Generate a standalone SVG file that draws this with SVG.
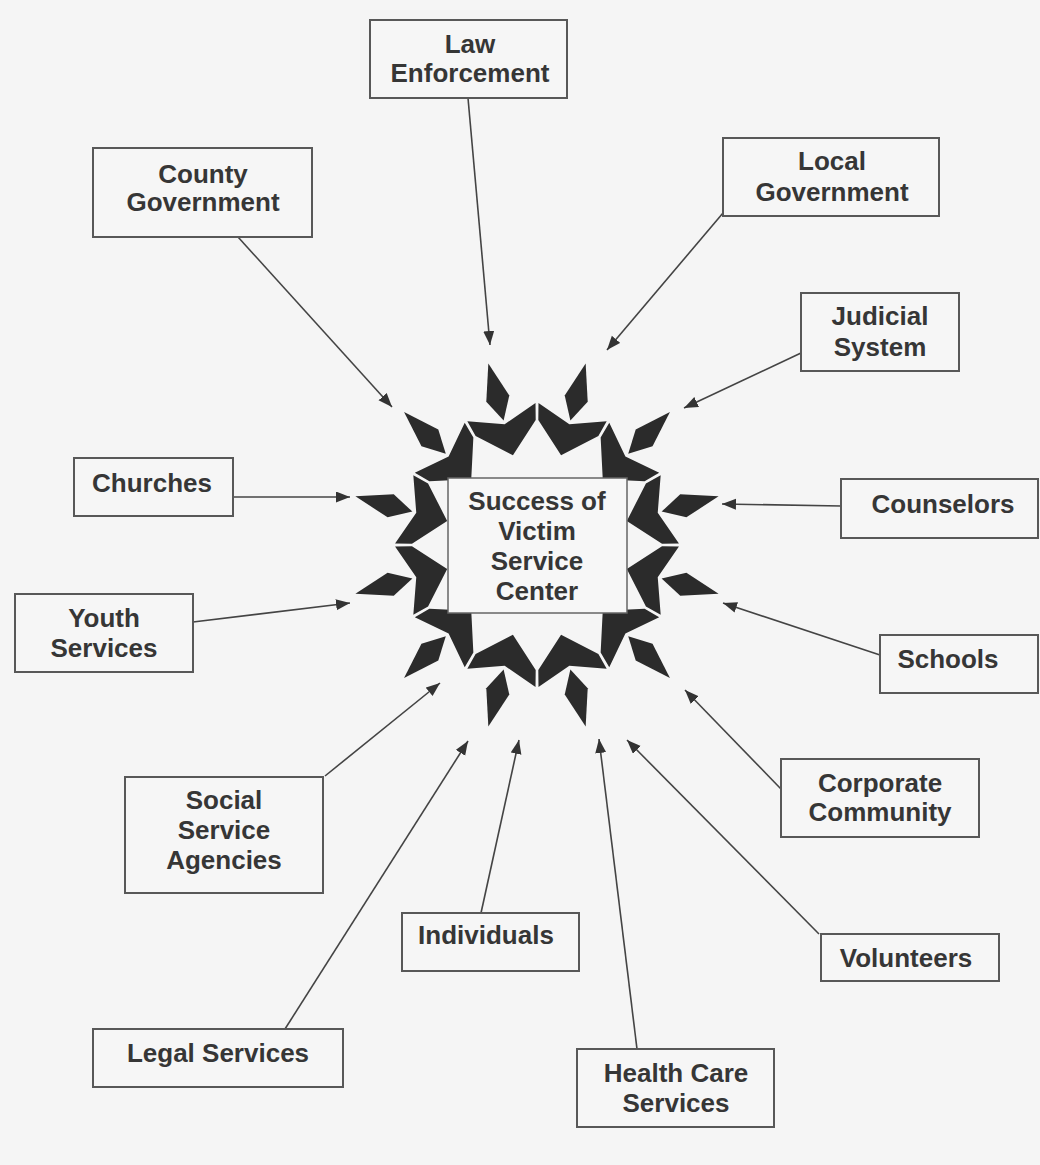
<svg xmlns="http://www.w3.org/2000/svg" xmlns:xlink="http://www.w3.org/1999/xlink" width="1040" height="1165" viewBox="0 0 1040 1165">
<style>
  .box { fill: #f6f6f6; stroke: #585858; stroke-width: 2; }
  .lbl { font-family: "Liberation Sans", Arial, sans-serif; font-weight: bold; font-size: 26px; fill: #363636; text-anchor: middle; }
  .edge { stroke: #444; stroke-width: 1.6; fill: none; marker-end: url(#arr); }
  .star { fill: #2b2b2b; }
</style>
<defs>
  <marker id="arr" markerUnits="userSpaceOnUse" markerWidth="15" markerHeight="12" refX="14" refY="5.5" orient="auto">
    <path d="M0,0 L14,5.5 L0,11 z" fill="#333"/>
  </marker>
  <g id="unit" class="star">
    <polygon points="-35.3,-137.5 0,-125 35.3,-137.5 31.1,-121.1 0,-93 -31.1,-121.1"/>
    <polygon points="0,-129 11.9,-151.5 0,-188 -11.9,-151.5"/>
  </g>
</defs>
<rect x="0" y="0" width="1040" height="1165" fill="#f5f5f5"/>

<g id="center">
  <use xlink:href="#unit" href="#unit" transform="translate(537,545) rotate(15)"/>
  <use xlink:href="#unit" href="#unit" transform="translate(537,545) rotate(45)"/>
  <use xlink:href="#unit" href="#unit" transform="translate(537,545) rotate(75)"/>
  <use xlink:href="#unit" href="#unit" transform="translate(537,545) rotate(105)"/>
  <use xlink:href="#unit" href="#unit" transform="translate(537,545) rotate(135)"/>
  <use xlink:href="#unit" href="#unit" transform="translate(537,545) rotate(165)"/>
  <use xlink:href="#unit" href="#unit" transform="translate(537,545) rotate(195)"/>
  <use xlink:href="#unit" href="#unit" transform="translate(537,545) rotate(225)"/>
  <use xlink:href="#unit" href="#unit" transform="translate(537,545) rotate(255)"/>
  <use xlink:href="#unit" href="#unit" transform="translate(537,545) rotate(285)"/>
  <use xlink:href="#unit" href="#unit" transform="translate(537,545) rotate(315)"/>
  <use xlink:href="#unit" href="#unit" transform="translate(537,545) rotate(345)"/>
  <rect x="448" y="478" width="179" height="135" fill="#f7f7f7" stroke="#666" stroke-width="1.5"/>
  <text class="lbl" x="537" y="510">Success of</text>
  <text class="lbl" x="537" y="540">Victim</text>
  <text class="lbl" x="537" y="570">Service</text>
  <text class="lbl" x="537" y="600">Center</text>
</g>

<g id="connectors">
  <line class="edge" x1="468" y1="98" x2="490" y2="345"/>
  <line class="edge" x1="238" y1="237" x2="392" y2="407"/>
  <line class="edge" x1="723" y1="213" x2="607" y2="350"/>
  <line class="edge" x1="801" y1="353" x2="684" y2="408"/>
  <line class="edge" x1="233" y1="497" x2="350" y2="497"/>
  <line class="edge" x1="841" y1="506" x2="722" y2="504"/>
  <line class="edge" x1="193" y1="622" x2="350" y2="603"/>
  <line class="edge" x1="880" y1="655" x2="723" y2="603"/>
  <line class="edge" x1="325" y1="776" x2="440" y2="683"/>
  <line class="edge" x1="781" y1="789" x2="685" y2="690"/>
  <line class="edge" x1="481" y1="913" x2="519" y2="740"/>
  <line class="edge" x1="819" y1="934" x2="627" y2="740"/>
  <line class="edge" x1="285" y1="1029" x2="468" y2="741"/>
  <line class="edge" x1="637" y1="1049" x2="599" y2="739"/>
</g>

<g id="law">
  <rect class="box" x="370" y="20" width="197" height="78"/>
  <text class="lbl" x="470" y="53">Law</text>
  <text class="lbl" x="470" y="82">Enforcement</text>
</g>
<g id="county">
  <rect class="box" x="93" y="148" width="219" height="89"/>
  <text class="lbl" x="203" y="183">County</text>
  <text class="lbl" x="203" y="211">Government</text>
</g>
<g id="local">
  <rect class="box" x="723" y="138" width="216" height="78"/>
  <text class="lbl" x="832" y="170">Local</text>
  <text class="lbl" x="832" y="201">Government</text>
</g>
<g id="judicial">
  <rect class="box" x="801" y="293" width="158" height="78"/>
  <text class="lbl" x="880" y="325">Judicial</text>
  <text class="lbl" x="880" y="356">System</text>
</g>
<g id="churches">
  <rect class="box" x="74" y="458" width="159" height="58"/>
  <text class="lbl" x="152" y="492">Churches</text>
</g>
<g id="counselors">
  <rect class="box" x="841" y="479" width="197" height="59"/>
  <text class="lbl" x="943" y="513">Counselors</text>
</g>
<g id="youth">
  <rect class="box" x="15" y="594" width="178" height="78"/>
  <text class="lbl" x="104" y="627">Youth</text>
  <text class="lbl" x="104" y="657">Services</text>
</g>
<g id="schools">
  <rect class="box" x="880" y="635" width="158" height="58"/>
  <text class="lbl" x="948" y="668">Schools</text>
</g>
<g id="social">
  <rect class="box" x="125" y="777" width="198" height="116"/>
  <text class="lbl" x="224" y="809">Social</text>
  <text class="lbl" x="224" y="839">Service</text>
  <text class="lbl" x="224" y="869">Agencies</text>
</g>
<g id="corporate">
  <rect class="box" x="781" y="759" width="198" height="78"/>
  <text class="lbl" x="880" y="792">Corporate</text>
  <text class="lbl" x="880" y="821">Community</text>
</g>
<g id="individuals">
  <rect class="box" x="402" y="913" width="177" height="58"/>
  <text class="lbl" x="486" y="944">Individuals</text>
</g>
<g id="volunteers">
  <rect class="box" x="821" y="934" width="178" height="47"/>
  <text class="lbl" x="906" y="967">Volunteers</text>
</g>
<g id="legal">
  <rect class="box" x="93" y="1029" width="250" height="58"/>
  <text class="lbl" x="218" y="1062">Legal Services</text>
</g>
<g id="health">
  <rect class="box" x="577" y="1049" width="197" height="78"/>
  <text class="lbl" x="676" y="1082">Health Care</text>
  <text class="lbl" x="676" y="1112">Services</text>
</g>
</svg>
